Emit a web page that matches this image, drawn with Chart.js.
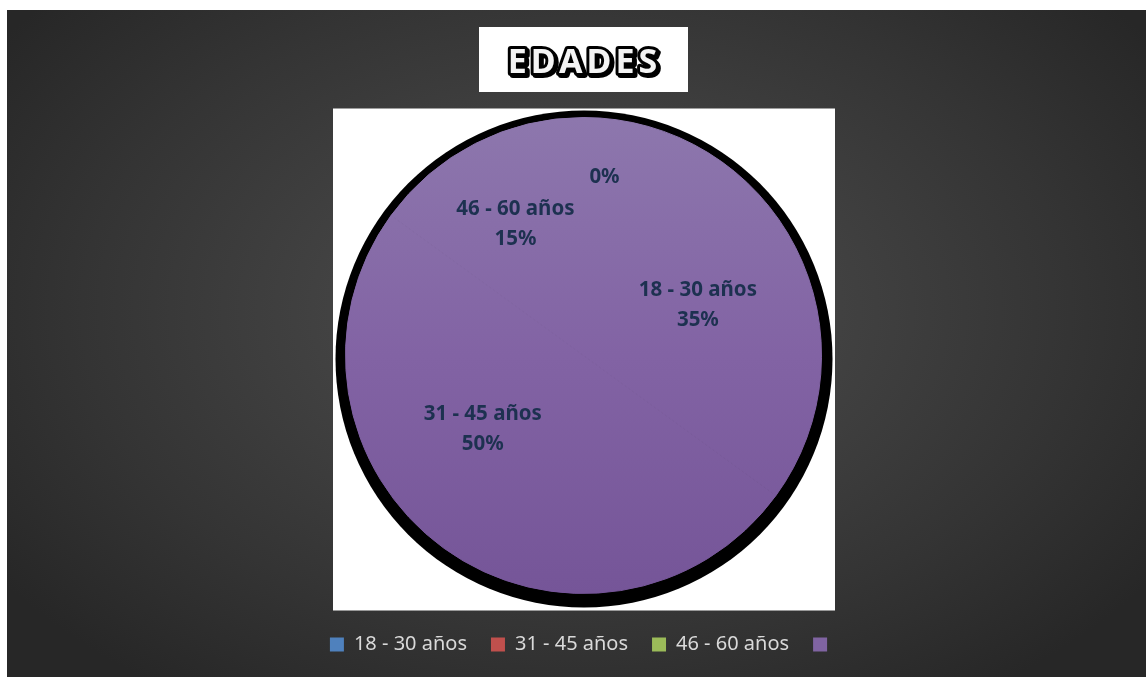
<!DOCTYPE html>
<html lang="es">
<head>
<meta charset="utf-8">
<title>Edades</title>
<script src="https://cdn.jsdelivr.net/npm/chart.js@4.4.1/dist/chart.umd.min.js"></script>
<style>
  html, body { margin: 0; padding: 0; background: #ffffff; }
  body { width: 1146px; height: 677px; position: relative; overflow: hidden; }
  #stage {
    position: absolute; left: 7px; top: 10px; width: 1139px; height: 667px;
    background: radial-gradient(ellipse 62% 70% at 50% 45%, #4a4a4a 0%, #424242 35%, #343434 70%, #272727 100%);
  }
  #chart { display: block; }
</style>
</head>
<body>
<div id="stage"><canvas id="chart" width="1139" height="667"></canvas></div>
<script>
// Age groups and their share of respondents (percent)
const categories = ['18 - 30 años', '31 - 45 años', '46 - 60 años', ''];
const shares = [35, 50, 15, 0];
const chartTitle = 'EDADES';

// Legend swatch colours (one per age group)
const legendColors = ['#4f81bd', '#c0504d', '#9bbb59', '#8064a2'];

// Label placement per slice: fraction of radius plus small pixel nudge
const labelPlacement = [
  { r: 0.53, dx: 2, dy: 7 },
  { r: 0.52, dx: -28, dy: -26 },
  { r: 0.63, dx: 0, dy: 2 },
  { r: 0.76, dx: 21, dy: 3 }
];

const PIE_RADIUS = 238;
const LABEL_FONT = 'bold 20.5px "Noto Sans", "Open Sans", sans-serif';
const LABEL_COLOR = '#1d3150';

// One vertical gradient shared by every slice, spanning the whole disc
function sliceFill(context) {
  const chart = context.chart;
  const area = chart.chartArea;
  if (!area) return '#8064a2';
  const cy = (area.top + area.bottom) / 2;
  const g = chart.ctx.createLinearGradient(0, cy - PIE_RADIUS, 0, cy + PIE_RADIUS);
  g.addColorStop(0, '#8d77ad');
  g.addColorStop(0.5, '#8263a4');
  g.addColorStop(1, '#755598');
  return g;
}

// White panels behind title and plot, plus the dark rim behind the pie
const framePlugin = {
  id: 'frame',
  beforeDatasetsDraw(chart) {
    const arc = chart.getDatasetMeta(0).data[0];
    if (!arc) return;
    const ctx = chart.ctx;
    const cx = arc.x, cy = arc.y, R = arc.outerRadius;
    ctx.save();
    // plot panel
    ctx.fillStyle = '#ffffff';
    ctx.fillRect(cx - 250.5, cy - 247, 502, 502);
    // title panel
    ctx.fillRect(cx - 104.5, 17, 209, 65);
    // dark rim
    ctx.fillStyle = '#000000';
    ctx.beginPath();
    ctx.arc(cx + 0.5, cy + 3.5, R + 10.5, 0, Math.PI * 2);
    ctx.fill();
    // title text: outlined with a drop shadow
    ctx.font = 'bold 34px "Noto Sans", "Open Sans", sans-serif';
    ctx.letterSpacing = '4px';
    ctx.textAlign = 'center';
    ctx.textBaseline = 'middle';
    ctx.lineJoin = 'round';
    const tx = cx + 1, ty = 53;
    ctx.strokeStyle = '#000000';
    ctx.lineWidth = 6;
    ctx.strokeText(chartTitle, tx + 2, ty + 2);
    ctx.strokeText(chartTitle, tx, ty);
    ctx.fillStyle = '#f4f4f4';
    ctx.fillText(chartTitle, tx, ty);
    ctx.restore();
  },
  afterDatasetsDraw(chart) {
    const meta = chart.getDatasetMeta(0);
    const data = chart.data.datasets[0].data;
    const total = data.reduce((a, b) => a + b, 0);
    const ctx = chart.ctx;
    ctx.save();
    ctx.font = LABEL_FONT;
    ctx.fillStyle = LABEL_COLOR;
    ctx.textAlign = 'center';
    ctx.textBaseline = 'middle';
    meta.data.forEach((arc, i) => {
      const p = labelPlacement[i];
      const mid = (arc.startAngle + arc.endAngle) / 2;
      const r = arc.outerRadius * p.r;
      const x = arc.x + Math.cos(mid) * r + p.dx;
      const y = arc.y + Math.sin(mid) * r + p.dy;
      const pct = Math.round(data[i] / total * 100) + '%';
      const name = chart.data.labels[i];
      if (name) {
        ctx.fillText(name, x, y - 15);
        ctx.fillText(pct, x, y + 15);
      } else {
        ctx.fillText(pct, x, y);
      }
    });
    ctx.restore();
  }
};

new Chart(document.getElementById('chart'), {
  type: 'pie',
  data: {
    labels: categories,
    datasets: [{
      data: shares,
      backgroundColor: sliceFill,
      borderColor: sliceFill,
      borderWidth: 1,
      radius: PIE_RADIUS
    }]
  },
  options: {
    responsive: false,
    animation: false,
    layout: { padding: { top: 90.5, bottom: 12.5, left: 14, right: 0 } },
    plugins: {
      title: { display: false },
      tooltip: { enabled: false },
      legend: {
        position: 'bottom',
        labels: {
          color: '#d9d9d9',
          font: { family: '"Noto Sans", "Open Sans", sans-serif', size: 20 },
          boxWidth: 14,
          boxHeight: 14,
          padding: 24,
          generateLabels(chart) {
            return chart.data.labels.map((t, i) => ({
              text: t,
              fillStyle: legendColors[i],
              strokeStyle: legendColors[i],
              lineWidth: 0,
              fontColor: '#d9d9d9',
              hidden: false,
              index: i
            }));
          }
        }
      }
    }
  },
  plugins: [framePlugin]
});
</script>
</body>
</html>
